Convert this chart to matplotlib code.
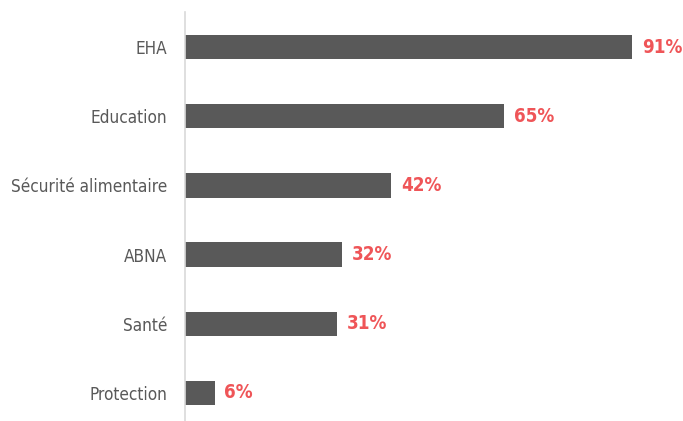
import matplotlib
matplotlib.use("Agg")
import matplotlib.pyplot as plt

categories = ["EHA", "Education", "Sécurité alimentaire", "ABNA", "Santé", "Protection"]
values = [91, 65, 42, 32, 31, 6]

# condensed face, closest to the narrow look of the labels
plt.rcParams["font.family"] = ["DejaVu Sans"]
plt.rcParams["font.stretch"] = "condensed"

fig = plt.figure(figsize=(6.83, 4.21), dpi=100)
ax = fig.add_axes([0.271, 0.0, 0.729, 0.9715])

ypos = list(range(len(categories)))
ax.barh(ypos, values, height=0.35, color="#595959")
for y, v in zip(ypos, values):
    ax.text(v + 2.0, y, f"{v}%", va="center", ha="left", color="#ef5558",
            fontsize=13.5, fontweight="bold")

ax.set_xlim(0, 101.4)
ax.set_ylim(5.406, -0.507)
ax.set_yticks(ypos)
ax.set_yticklabels(categories, fontsize=12.3, color="#595959")
ax.tick_params(axis="y", length=0, pad=13)
ax.set_xticks([])
for s in ["top", "right", "bottom"]:
    ax.spines[s].set_visible(False)
ax.spines["left"].set_color("#d9d9d9")
ax.spines["left"].set_linewidth(1.2)

fig.savefig("out.png", dpi=100)
